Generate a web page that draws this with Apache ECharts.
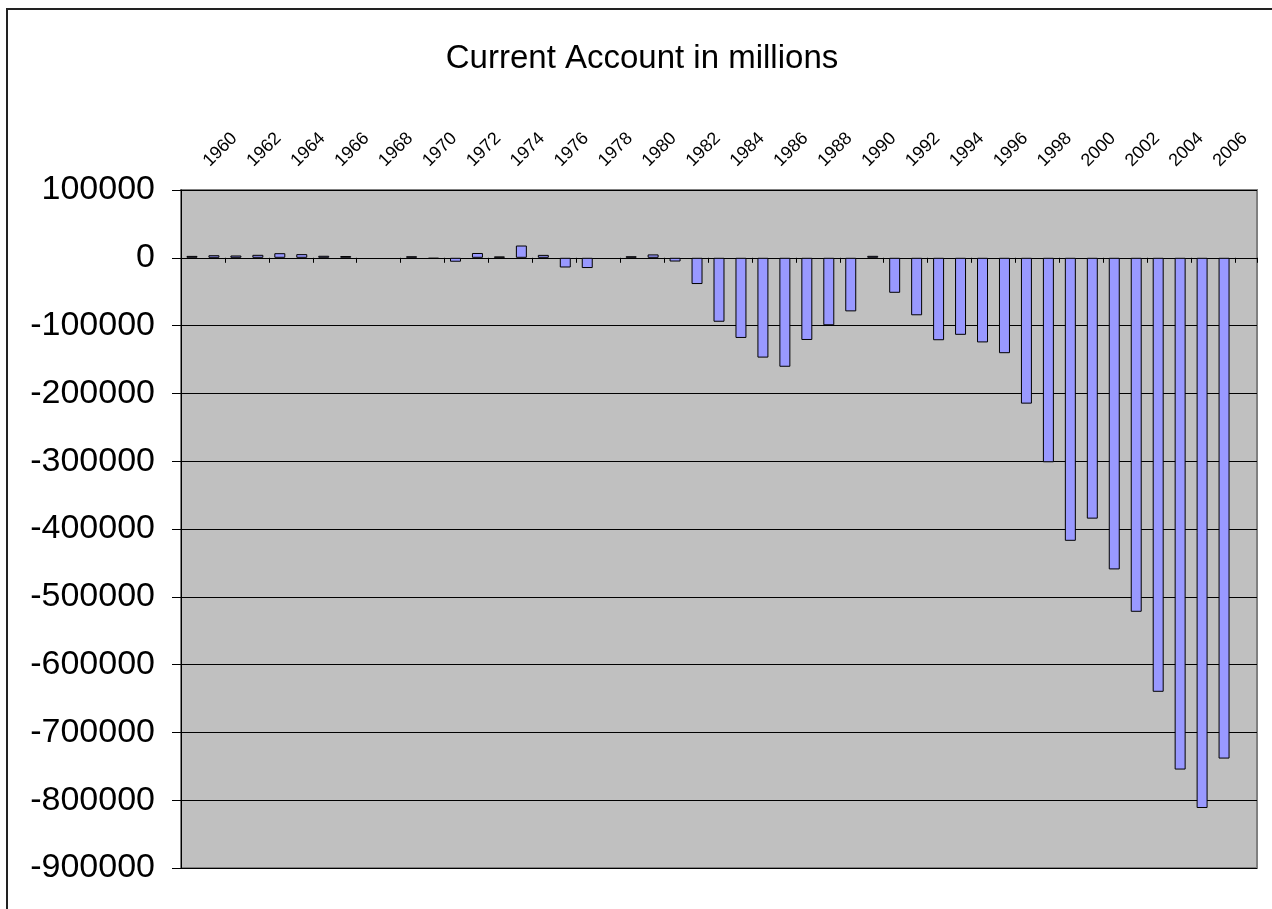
<!DOCTYPE html>
<html>
<head>
<meta charset="utf-8">
<script src="https://cdn.jsdelivr.net/npm/echarts@6/dist/echarts.min.js"></script>
<style>
html,body{margin:0;padding:0;background:#fff;}
#chart{width:1272px;height:909px;}
</style>
</head>
<body>
<div id="chart"></div>
<script>
// Categories: years (last two slots unlabeled in the reference)
var years = [];
for (var y = 1960; y <= 2008; y++) years.push(String(y));

// Current account, millions
var currentAccount = [
  2800, 3800, 3400, 4400, 6800, 5400, 3000, 2600, null, null,
  2300, -1400, -5800, 7100, 2000, 18100, 4300, -14300, -15100, null,
  2300, 5000, -5500, -38700, -94300, -118200, -147200, -160700, -121200, -99500,
  -79000, 2900, -51600, -84800, -121600, -113600, -124800, -140700, -215100, -301600,
  -417400, -384700, -459600, -522100, -640100, -754800, -811500, -738600, null
];

var yMin = -900000, yMax = 100000, yStep = 100000;
var lastLabeledIndex = 46;

var chart = echarts.init(document.getElementById('chart'), null, {renderer: 'canvas'});
var font = 'Liberation Sans, Arial, sans-serif';
chart.setOption({
  animation: false,
  backgroundColor: '#ffffff',
  title: {
    text: 'Current Account in millions',
    left: 637, top: 37, textAlign: 'center',
    textStyle: {fontFamily: font, fontSize: 33, fontWeight: 'normal', color: '#000'}
  },
  graphic: [{
    type: 'rect', shape: {x: 7, y: 9, width: 1300, height: 950},
    style: {fill: null, stroke: '#222', lineWidth: 2}, silent: true, z: 100
  }],
  grid: {
    left: 181, right: 15, top: 190, bottom: 41,
    show: true, backgroundColor: '#C0C0C0', borderColor: '#808080', borderWidth: 2
  },
  xAxis: [{
    type: 'category', data: years, position: 'bottom',
    axisLine: {onZero: true, lineStyle: {color: '#000', width: 1}},
    axisTick: {show: true, length: 5, lineStyle: {color: '#000'}},
    axisLabel: {show: false},
    splitLine: {show: false}
  }, {
    type: 'category', data: years, position: 'top',
    axisLine: {show: false, onZero: false},
    axisTick: {show: false},
    axisLabel: {
      show: true, rotate: -45, margin: 12, padding: [0, 0, 0, 20],
      fontFamily: font, fontSize: 18, color: '#000',
      interval: function (i) { return i % 2 === 0 && i <= lastLabeledIndex; }
    },
    splitLine: {show: false}
  }],
  yAxis: {
    type: 'value', min: yMin, max: yMax, interval: yStep,
    axisLine: {show: true, lineStyle: {color: '#000', width: 1}},
    axisTick: {show: true, length: 9, lineStyle: {color: '#000'}},
    axisLabel: {fontFamily: font, fontSize: 34, color: '#000', margin: 26,
      formatter: function (v) { return String(v); }},
    splitLine: {show: true, lineStyle: {color: '#000', width: 1}}
  },
  series: [{
    type: 'bar', xAxisIndex: 0, data: currentAccount,
    barWidth: '50%',
    itemStyle: {color: '#9999FF', borderColor: '#000', borderWidth: 1}
  }]
});
</script>
</body>
</html>
